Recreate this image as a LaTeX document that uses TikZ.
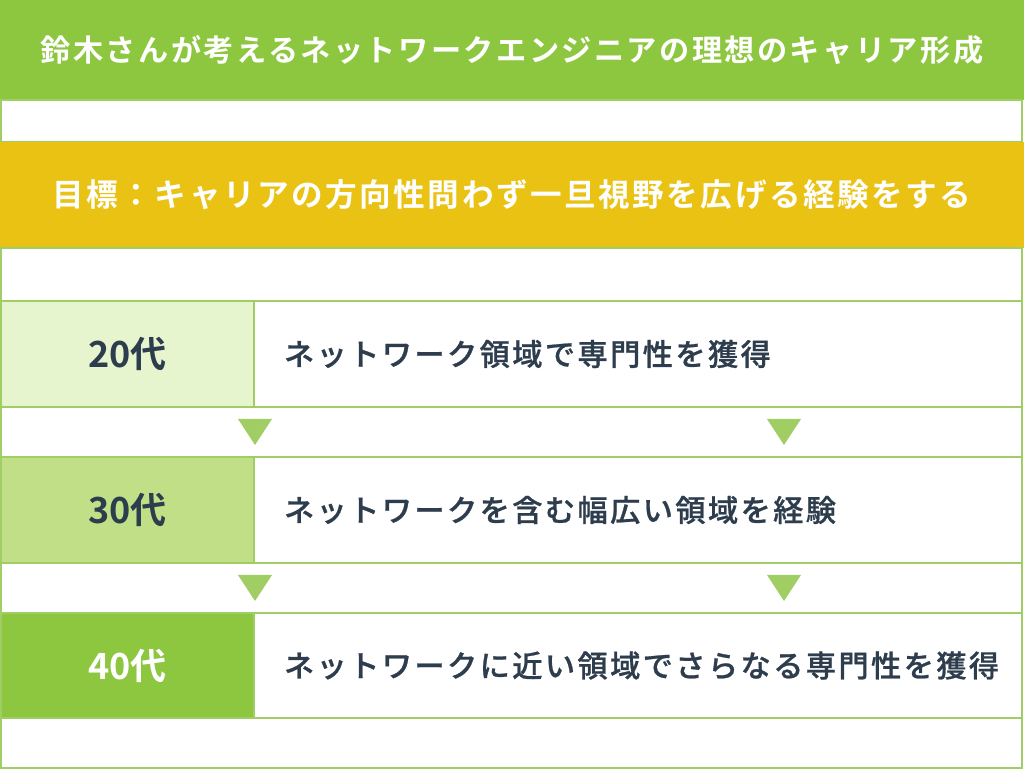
\documentclass[tikz,border=0pt]{standalone}
\usepackage{fontspec}
\newfontfamily\jpfont{Noto Sans CJK JP}[BoldFont={Noto Sans CJK JP Bold},LetterSpace=8]
\newfontfamily\jpmid{Noto Sans CJK JP Medium}[LetterSpace=8,FakeBold=0.8]
\newfontfamily\jpnum{Noto Sans CJK JP}[BoldFont={Noto Sans CJK JP Bold}]
\definecolor{headgreen}{HTML}{8DC63F}
\definecolor{goalgold}{HTML}{EAC214}
\definecolor{linegreen}{HTML}{A0CE64}
\definecolor{agelight}{HTML}{E6F5CD}
\definecolor{agemid}{HTML}{C1DF87}
\definecolor{inkdark}{HTML}{2E3D4D}

\begin{document}
\begin{tikzpicture}[x=1pt,y=1pt,inner sep=0pt,outer sep=0pt,
  bar/.style={rectangle,minimum width=1024,font=\jpfont\bfseries\fontsize{30.2}{35}\selectfont,text=white},
  blank/.style={rectangle,draw=linegreen,line width=2pt,minimum width=1021},
  age/.style={rectangle,draw=linegreen,line width=2pt,minimum width=253,minimum height=106,
    font=\jpnum\bfseries\fontsize{36}{40}\selectfont,text=inkdark},
  stage/.style={rectangle,draw=linegreen,line width=2pt,minimum height=106,text width=708,
    inner xsep=30,align=left,font=\jpmid\fontsize{30.2}{35}\selectfont,text=inkdark},
  tri/.style={fill=linegreen}]

  \useasboundingbox (0,0) rectangle (1024,770);

  % header and goal
  \node[bar,fill=headgreen,minimum height=100] (title) at (512,720)
    {鈴木さんが考えるネットワークエンジニアの理想のキャリア形成};
  \node[blank,minimum height=42] (gap1) at (511.5,649) {};
  \node[bar,fill=goalgold,minimum height=106,font=\jpfont\bfseries\fontsize{31.6}{36}\selectfont] (goal) at (512,575)
    {目標：キャリアの方向性問わず一旦視野を広げる経験をする};
  \node[blank,minimum height=53] (gap2) at (511.5,495.5) {};

  % stages
  \node[age,fill=agelight] (a20) at (127.5,416) {20代};
  \node[stage] (s20) at (638,416) {ネットワーク領域で専門性を獲得};
  \node[blank,minimum height=50] (gap3) at (511.5,338) {};
  \node[age,fill=agemid] (a30) at (127.5,260) {30代};
  \node[stage] (s30) at (638,260) {ネットワークを含む幅広い領域を経験};
  \node[blank,minimum height=50] (gap4) at (511.5,182) {};
  \node[age,fill=headgreen,text=white,minimum height=105] (a40) at (127.5,104.5) {40代};
  \node[stage,minimum height=105] (s40) at (638,104.5) {ネットワークに近い領域でさらなる専門性を獲得};
  \node[blank,minimum height=50] (gap5) at (511.5,27) {};

  % arrows between stages
  \foreach \g in {gap3,gap4}
    \foreach \x in {255,784}
      \fill[tri] ([xshift=\x-528.5,yshift=13]\g.center) -- ++(34,0) -- ++(-17,-26) -- cycle;

\end{tikzpicture}
\end{document}
